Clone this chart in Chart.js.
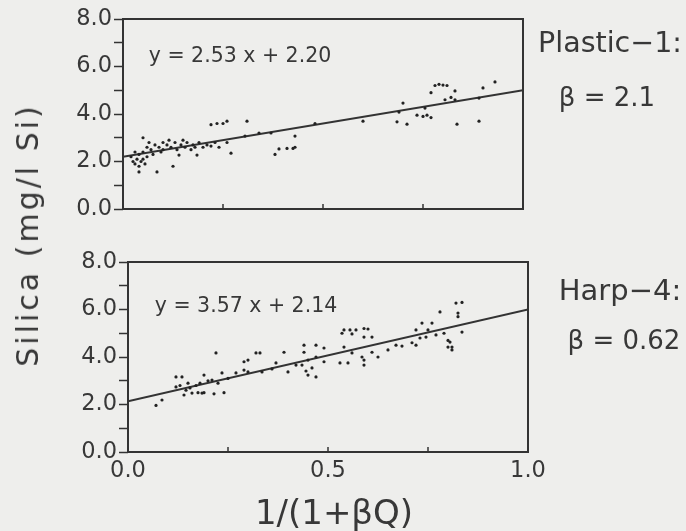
<!DOCTYPE html>
<html>
<head>
<meta charset="utf-8">
<script src="https://cdn.jsdelivr.net/npm/chart.js@4/dist/chart.umd.min.js"></script>
<style>
  html, body { margin: 0; padding: 0; background: #eeeeec; }
  #wrap { position: relative; width: 686px; height: 531px; overflow: hidden;
          font-family: "DejaVu Sans", sans-serif; color: #383838; }
  canvas { position: absolute; left: 0; }
  .lbl { position: absolute; white-space: nowrap; transform: translate(-50%, -50%); line-height: 1; }
</style>
</head>
<body>
<div id="wrap">
  <canvas id="top-panel" width="686" height="240" style="top:0"></canvas>
  <canvas id="bottom-panel" width="686" height="291" style="top:240px"></canvas>

  <div class="lbl" style="left:240px; top:55px; font-size:20.5px">y = 2.53 x + 2.20</div>
  <div class="lbl" style="left:246px; top:305px; font-size:20.5px">y = 3.57 x + 2.14</div>
  <div class="lbl" style="left:610px; top:43px; font-size:28.5px">Plastic−1:</div>
  <div class="lbl" style="left:607px; top:97px; font-size:26px">β = 2.1</div>
  <div class="lbl" style="left:620px; top:290px; font-size:29px">Harp−4:</div>
  <div class="lbl" style="left:624px; top:340px; font-size:26px">β = 0.62</div>
  <div class="lbl" style="left:28px; top:235px; font-size:30px; letter-spacing:3px; transform: translate(-50%, -50%) rotate(-90deg)">Silica (mg/l Si)</div>
  <div class="lbl" style="left:334px; top:512px; font-size:34px">1/(1+βQ)</div>
</div>

<script>
// ---------- data ----------
// Plastic-1 (top panel)
const plasticX = [
  0.02, 0.025, 0.03, 0.03, 0.035, 0.04, 0.04, 0.045, 0.05, 0.05, 0.055, 0.06, 0.04, 0.05,
  0.06, 0.065, 0.07, 0.075, 0.08, 0.085, 0.09, 0.095, 0.10, 0.10, 0.11, 0.115, 0.12, 0.125,
  0.13, 0.135, 0.14, 0.145, 0.15, 0.155, 0.16, 0.17, 0.175, 0.18, 0.185, 0.19, 0.20, 0.21,
  0.22, 0.23, 0.24, 0.22, 0.235, 0.25, 0.26, 0.27, 0.26,
  0.305, 0.31, 0.34, 0.37, 0.38, 0.39, 0.41, 0.425, 0.43, 0.43, 0.48,
  0.60, 0.685, 0.70, 0.69, 0.71, 0.735, 0.75, 0.76, 0.77, 0.755, 0.77, 0.78, 0.79, 0.80,
  0.81, 0.805, 0.82, 0.83, 0.83, 0.835, 0.89, 0.89, 0.90, 0.93,
];
const plasticY = [
  2.2, 2.0, 2.4, 1.9, 2.1, 2.3, 1.8, 2.0, 2.4, 2.1, 1.9, 2.2, 1.56, 3.0,
  2.6, 2.8, 2.5, 2.3, 2.7, 1.56, 2.6, 2.4, 2.8, 2.5, 2.7, 2.9, 2.6, 1.8,
  2.8, 2.5, 2.27, 2.7, 2.9, 2.6, 2.8, 2.5, 2.7, 2.6, 2.27, 2.8, 2.6, 2.7,
  2.65, 2.8, 2.6, 3.55, 3.6, 3.6, 3.7, 2.35, 2.8,
  3.07, 3.7, 3.2, 3.2, 2.3, 2.53, 2.55, 2.55, 2.6, 3.07, 3.6,
  3.7, 3.67, 4.46, 4.08, 3.57, 3.95, 3.9, 3.95, 3.85, 4.25, 4.9, 5.2, 5.25, 5.22,
  5.2, 4.6, 4.7, 4.6, 4.97, 3.57, 3.7, 4.67, 5.1, 5.35,
];

// Harp-4 (bottom panel)
const harpX = [
  0.07, 0.085, 0.12, 0.135, 0.12, 0.13, 0.14, 0.145, 0.15, 0.155, 0.16, 0.17, 0.175, 0.18,
  0.185, 0.19, 0.19, 0.20, 0.21, 0.215, 0.22, 0.225, 0.235, 0.24, 0.25, 0.27, 0.29, 0.29,
  0.30, 0.30, 0.32, 0.33, 0.335, 0.36, 0.37, 0.39, 0.40, 0.42, 0.435, 0.44, 0.44, 0.445,
  0.45, 0.45, 0.46, 0.47, 0.47, 0.47, 0.49, 0.49, 0.53, 0.535, 0.54, 0.54, 0.55, 0.555,
  0.56, 0.56, 0.57, 0.585, 0.59, 0.59, 0.59, 0.59, 0.60, 0.61, 0.61, 0.625, 0.65, 0.67,
  0.685, 0.71, 0.72, 0.72, 0.73, 0.735, 0.745, 0.75, 0.76, 0.77, 0.78, 0.79, 0.80, 0.80,
  0.805, 0.81, 0.81, 0.82, 0.825, 0.825, 0.835, 0.835,
];
const harpY = [
  1.96, 2.19, 3.16, 3.16, 2.74, 2.8, 2.4, 2.6, 2.9, 2.7, 2.48, 2.8, 2.5, 2.9,
  2.48, 3.24, 2.5, 3.0, 3.03, 2.45, 4.17, 2.9, 3.33, 2.5, 3.1, 3.33, 3.8, 3.45,
  3.37, 3.87, 4.17, 4.17, 3.37, 3.5, 3.75, 4.2, 3.37, 3.66, 3.66, 4.5, 4.2, 3.41,
  3.87, 3.24, 3.54, 4.5, 3.16, 4.0, 4.38, 3.8, 3.75, 5.0, 4.42, 5.14, 3.75, 5.14,
  4.97, 4.17, 5.14, 4.0, 3.66, 3.87, 4.84, 5.2, 5.18, 4.84, 4.2, 4.0, 4.3, 4.5,
  4.46, 4.6, 4.5, 5.14, 4.8, 5.43, 4.84, 5.14, 5.43, 4.93, 5.9, 5.0, 4.7, 4.42,
  4.63, 4.3, 4.42, 6.27, 5.85, 5.7, 6.3, 5.05,
];

// fitted lines, end points as drawn
const fitX = [0, 1];
const plasticFitY = [2.2, 5.0];
const harpFitY = [2.14, 6.0];

const xTicksLabelled = [0, 0.5, 1];

// ---------- style ----------
const INK = '#333333';
const TEXT = '#383838';
const TICK_FONT = { family: 'DejaVu Sans', size: 22.5 };

function toPoints(xs, ys) {
  return xs.map((x, i) => ({ x, y: ys[i] }));
}

// box round the chart area and inward x ticks
const framePlugin = {
  id: 'frame',
  afterDraw(chart) {
    const { ctx, chartArea: a, scales } = chart;
    ctx.save();
    ctx.strokeStyle = INK;
    ctx.lineWidth = 2;
    ctx.strokeRect(a.left, a.top, a.right - a.left, a.bottom - a.top);
    ctx.lineWidth = 1.5;
    for (const t of scales.x.ticks) {
      const px = scales.x.getPixelForValue(t.value);
      ctx.beginPath();
      ctx.moveTo(px, a.bottom);
      ctx.lineTo(px, a.bottom - 5);
      ctx.stroke();
    }
    ctx.restore();
  },
};

function makePanel(canvasId, xs, ys, fitYs, box) {
  const canvas = document.getElementById(canvasId);
  return new Chart(canvas, {
    type: 'scatter',
    data: {
      datasets: [
        {
          data: toPoints(xs, ys),
          pointRadius: 1.6,
          pointBackgroundColor: '#222',
          pointBorderWidth: 0,
        },
        {
          type: 'line',
          data: toPoints(fitX, fitYs),
          borderColor: INK,
          borderWidth: 2,
          pointRadius: 0,
        },
      ],
    },
    options: {
      responsive: false,
      animation: false,
      layout: { padding: { left: 0, right: 686 - box.right, top: box.top, bottom: 0 } },
      plugins: { legend: { display: false }, tooltip: { enabled: false } },
      scales: {
        x: {
          type: 'linear',
          min: 0,
          max: 1,
          border: { display: false },
          grid: { drawOnChartArea: false, drawTicks: false },
          ticks: {
            stepSize: 0.25,
            padding: 6,
            color: TEXT,
            font: TICK_FONT,
            maxRotation: 0,
            autoSkip: false,
            display: box.xLabels,
            callback: (v) => (xTicksLabelled.includes(v) ? v.toFixed(1) : ''),
          },
          afterFit: (s) => { s.height = box.xHeight; },
        },
        y: {
          min: 0,
          max: 8,
          border: { display: false },
          grid: { drawOnChartArea: false, tickLength: 9, tickColor: INK, tickWidth: 1.5 },
          ticks: {
            stepSize: 1,
            padding: 2,
            color: TEXT,
            font: TICK_FONT,
            autoSkip: false,
            callback: (v) => (v % 2 === 0 ? v.toFixed(1) : ''),
          },
          afterFit: (s) => { s.width = box.left; },
        },
      },
    },
    plugins: [framePlugin],
  });
}

makePanel('top-panel', plasticX, plasticY, plasticFitY,
  { left: 123, right: 523, top: 19, xHeight: 240 - 209, xLabels: false });
makePanel('bottom-panel', harpX, harpY, harpFitY,
  { left: 128, right: 528, top: 22, xHeight: 291 - 212, xLabels: true });
</script>
</body>
</html>
